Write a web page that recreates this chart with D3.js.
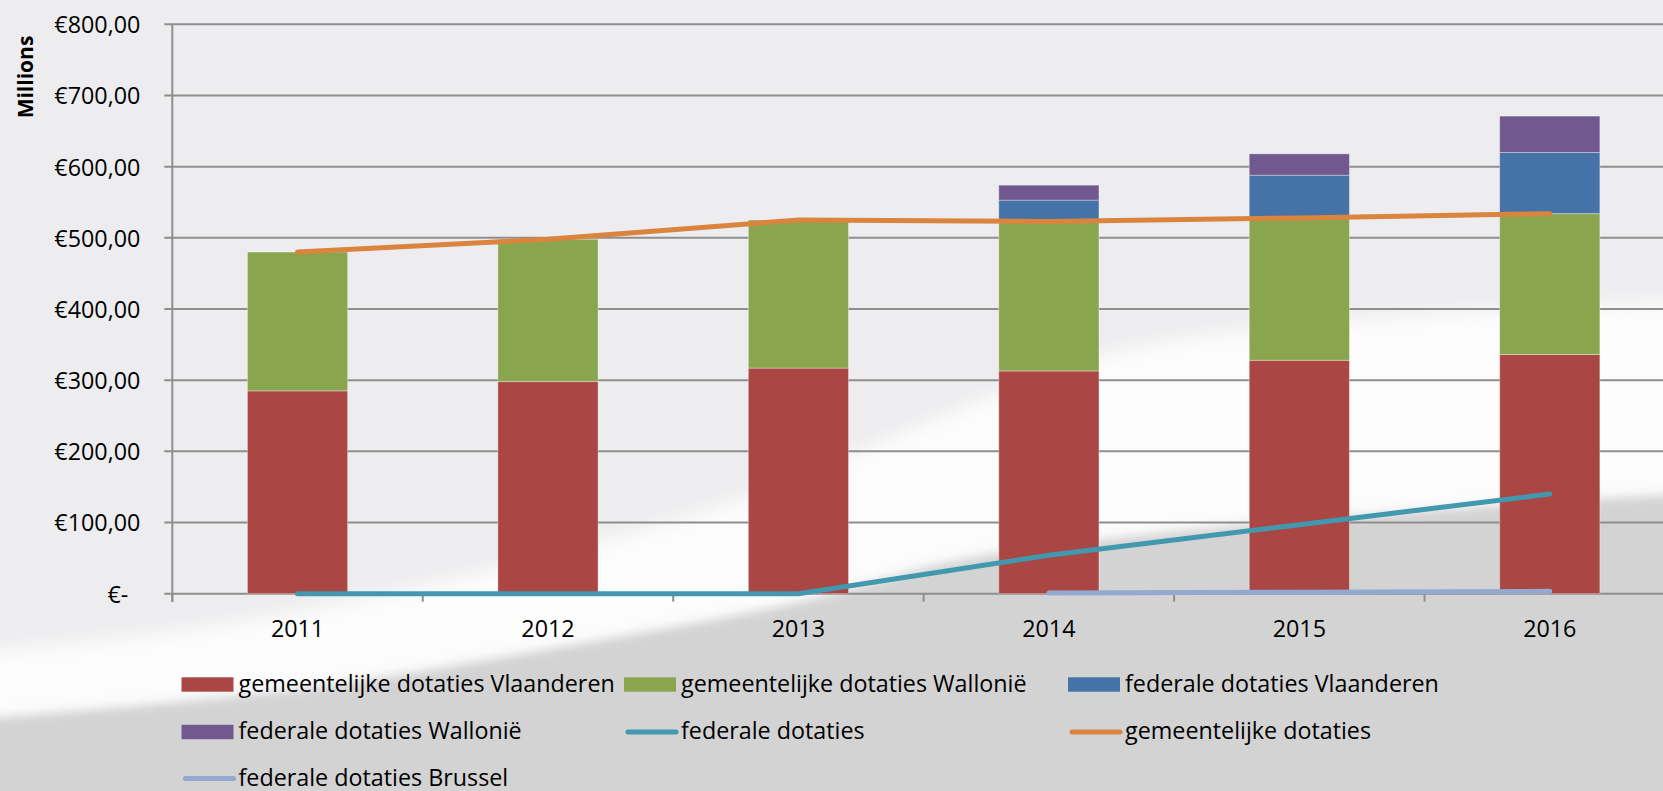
<!DOCTYPE html>
<html>
<head>
<meta charset="utf-8">
<script src="https://cdn.jsdelivr.net/npm/d3@7"></script>
<style>
  body { margin: 0; background: #ededef; }
  svg { display: block; }
  text { font-family: 'Open Sans', sans-serif; fill: #000; }
</style>
</head>
<body>
<div id="chart"></div>
<script>
// data ------------------------------------------------------------------------------------------
const years = ['2011', '2012', '2013', '2014', '2015', '2016'];
const gemVlaanderen = [285, 298, 317, 313, 328, 336];
const gemWallonie = [195, 200, 208, 210, 201, 198];
const fedVlaanderen = [0, 0, 0, 30, 59, 86];
const fedWallonie = [0, 0, 0, 21, 30, 51];
const fedTotaal = [0, 0, 0, 54, 97, 140];
const gemTotaal = [480, 498, 525, 523, 528, 534];
const fedBrussel = [null, null, null, 1, 2, 3.3];
const yTicks = [0, 100, 200, 300, 400, 500, 600, 700, 800];

const barKeys = ['gemeentelijke dotaties Vlaanderen', 'gemeentelijke dotaties Wallonië',
  'federale dotaties Vlaanderen', 'federale dotaties Wallonië'];
const lineKeys = ['federale dotaties', 'gemeentelijke dotaties', 'federale dotaties Brussel'];
const barColors = ['#aa4643', '#89a54e', '#4572a7', '#71588f'];
const lineColors = ['#4198af', '#db843d', '#93a9cf'];

// table for the stack
const table = years.map((y, i) => ({
  year: y,
  [barKeys[0]]: gemVlaanderen[i],
  [barKeys[1]]: gemWallonie[i],
  [barKeys[2]]: fedVlaanderen[i],
  [barKeys[3]]: fedWallonie[i]
}));
const lineSeries = [fedTotaal, gemTotaal, fedBrussel];

// size ------------------------------------------------------------------------------------------
const width = 1663;
const height = 791;
const margin = { top: 24.3, bottom: 197.3, left: 172.3, right: -12 };
const fontSize = 23.3;

const svg = d3.select('#chart').append('svg')
  .attr('width', width)
  .attr('height', height);

// background (swoosh of the slide) -----------------------------------------------------------------
const defs = svg.append('defs');
defs.append('filter').attr('id', 'soft').attr('x', '-10%').attr('y', '-30%').attr('width', '120%').attr('height', '160%')
  .append('feGaussianBlur').attr('stdDeviation', 9);
defs.append('filter').attr('id', 'edge').attr('x', '-5%').attr('y', '-10%').attr('width', '110%').attr('height', '120%')
  .append('feGaussianBlur').attr('stdDeviation', 5);

const swooshTop = [[-20, 652], [212, 626], [477, 573], [742, 498], [923, 424], [1114, 352], [1379, 318], [1700, 300]];
const swooshBottom = [[-20, 720], [300, 690], [550, 650], [800, 603], [955, 562], [1170, 533], [1450, 510], [1700, 494]];
const curve = d3.line().curve(d3.curveCatmullRom);

svg.append('rect').attr('width', width).attr('height', height).attr('fill', '#ededef');
svg.append('path')
  .attr('d', curve(swooshTop) + 'L' + curve(swooshBottom.slice().reverse()).slice(1) + 'Z')
  .attr('fill', '#ffffff')
  .attr('opacity', 0.85)
  .attr('filter', 'url(#soft)');
svg.append('path')
  .attr('d', curve(swooshBottom) + 'L1700,830L-20,830Z')
  .attr('fill', '#d3d3d3')
  .attr('filter', 'url(#edge)');

// scales ----------------------------------------------------------------------------------------
const xScale = d3.scaleBand()
  .domain(years)
  .range([margin.left, width - margin.right])
  .paddingInner(0.6)
  .paddingOuter(0.3);
const step = xScale.step();
const xCenter = d => xScale(d) + xScale.bandwidth() / 2;
const yScale = d3.scaleLinear()
  .domain([0, 800])
  .range([height - margin.bottom, margin.top]);

const locale = d3.formatLocale({ decimal: ',', thousands: '.', grouping: [3], currency: ['€', ''] });
const euro = locale.format('$,.2f');

// grid lines ------------------------------------------------------------------------------------
svg.append('g')
  .selectAll('line')
  .data(yTicks)
  .enter()
  .append('line')
  .attr('x1', margin.left - 8)
  .attr('x2', width - margin.right)
  .attr('y1', d => yScale(d))
  .attr('y2', d => yScale(d))
  .attr('stroke', '#8e8e8e')
  .attr('stroke-width', 2);

// y axis ----------------------------------------------------------------------------------------
const yAxis = svg.append('g')
  .attr('transform', 'translate(' + margin.left + ',0)')
  .call(d3.axisLeft(yScale).tickValues(yTicks).tickSize(0).tickPadding(32)
    .tickFormat(d => d === 0 ? '€-' : euro(d)));
yAxis.select('.domain').remove();
yAxis.selectAll('text')
  .attr('font-size', fontSize + 'px')
  .attr('font-family', "'Open Sans', sans-serif")
  .attr('dy', '0.36em')
  .attr('x', d => d === 0 ? -44 : -32);
svg.append('line')
  .attr('x1', margin.left).attr('x2', margin.left)
  .attr('y1', margin.top).attr('y2', height - margin.bottom + 8)
  .attr('stroke', '#8e8e8e')
  .attr('stroke-width', 2);

// x axis ----------------------------------------------------------------------------------------
const boundaries = d3.range(years.length + 1).map(i => margin.left + i * step);
svg.append('g')
  .selectAll('line')
  .data(boundaries)
  .enter()
  .append('line')
  .attr('x1', d => d).attr('x2', d => d)
  .attr('y1', height - margin.bottom)
  .attr('y2', height - margin.bottom + 8)
  .attr('stroke', '#8e8e8e')
  .attr('stroke-width', 2);
svg.append('g')
  .selectAll('text')
  .data(years)
  .enter()
  .append('text')
  .attr('x', d => xCenter(d))
  .attr('y', 636.5)
  .attr('text-anchor', 'middle')
  .attr('font-size', fontSize + 'px')
  .text(d => d);

// stacked bars ----------------------------------------------------------------------------------
const stacked = d3.stack().keys(barKeys)(table);
const colorScale = d3.scaleOrdinal().domain(barKeys).range(barColors);
svg.append('g')
  .selectAll('g')
  .data(stacked)
  .enter()
  .append('g')
  .attr('fill', d => colorScale(d.key))
  .selectAll('rect')
  .data(d => d.filter(p => p[1] - p[0] > 0))
  .enter()
  .append('rect')
  .attr('x', d => xScale(d.data.year))
  .attr('width', xScale.bandwidth())
  .attr('y', d => yScale(d[1]))
  .attr('height', d => yScale(d[0]) - yScale(d[1]))
  .attr('stroke', 'rgba(255,255,255,0.35)')
  .attr('stroke-width', 1);

// lines -----------------------------------------------------------------------------------------
const line = d3.line()
  .defined(d => d.v !== null)
  .x(d => xCenter(d.year))
  .y(d => yScale(d.v));
lineSeries.forEach((vals, k) => {
  svg.append('path')
    .datum(years.map((y, i) => ({ year: y, v: vals[i] })))
    .attr('fill', 'none')
    .attr('stroke', lineColors[k])
    .attr('stroke-width', 5)
    .attr('stroke-linecap', 'round')
    .attr('stroke-linejoin', 'round')
    .attr('d', line);
});

// y title ---------------------------------------------------------------------------------------
svg.append('text')
  .attr('transform', 'translate(33,77) rotate(-90)')
  .attr('text-anchor', 'middle')
  .attr('font-size', '21px')
  .attr('font-weight', 'bold')
  .text('Millions');

// legend ----------------------------------------------------------------------------------------
const legendCols = [181.5, 624, 1068];
const legendRows = [684.5, 732, 778.5];
const legendItems = barKeys.map((k, i) => ({ name: k, color: barColors[i], kind: 'rect' }))
  .concat(lineKeys.map((k, i) => ({ name: k, color: lineColors[i], kind: 'line' })));
const legend = svg.append('g')
  .selectAll('g')
  .data(legendItems)
  .enter()
  .append('g')
  .attr('transform', (d, i) => 'translate(' + legendCols[i % 3] + ',' + legendRows[Math.floor(i / 3)] + ')');
legend.filter(d => d.kind === 'rect')
  .append('rect')
  .attr('x', 0).attr('y', -7.2)
  .attr('width', 52).attr('height', 14.4)
  .attr('fill', d => d.color);
legend.filter(d => d.kind === 'line')
  .append('line')
  .attr('x1', 4).attr('x2', 52)
  .attr('y1', 0).attr('y2', 0)
  .attr('stroke', d => d.color)
  .attr('stroke-width', 5)
  .attr('stroke-linecap', 'round');
legend.append('text')
  .attr('x', 57)
  .attr('dy', '0.3em')
  .attr('font-size', fontSize + 'px')
  .text(d => d.name);
</script>
</body>
</html>
